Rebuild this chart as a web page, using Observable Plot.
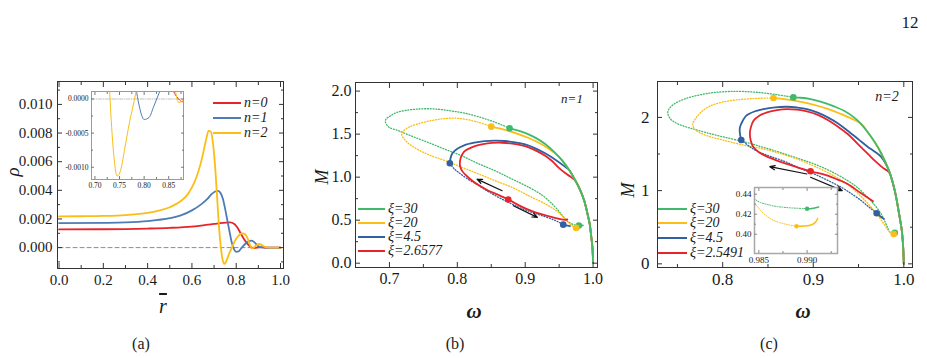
<!DOCTYPE html>
<html>
<head>
<meta charset="utf-8">
<script src="https://cdn.jsdelivr.net/npm/d3@7"></script>
<script src="https://cdn.jsdelivr.net/npm/@observablehq/plot@0.6"></script>
<style>
  html, body { margin:0; padding:0; background:#fff; }
  #page { position:relative; width:927px; height:358px; overflow:hidden; background:#fff;
          font-family:"Liberation Serif","Times New Roman",Tinos,"DejaVu Serif","Noto Serif",serif; color:#1a1a1a; }
  .panel { position:absolute; }
  .panel svg { display:block; overflow:visible; }
  .panel svg text { font-family:"Liberation Serif","Times New Roman",Tinos,"DejaVu Serif",serif !important; }
  .t { position:absolute; white-space:nowrap; line-height:1; transform:translate(-50%,-50%); }
  .lgline { position:absolute; height:2px; }
  .lgtext { position:absolute; white-space:nowrap; line-height:1; transform:translateY(-50%); font-style:italic; }
</style>
</head>
<body>
<div id="page"></div>
<script>
// ---------------- Panel (a): rho vs r-bar ----------------
const rN0   = [0, 0.2, 0.4, 0.5, 0.6, 0.65, 0.7, 0.74, 0.772, 0.79, 0.805, 0.82, 0.835, 0.85, 0.862, 0.87, 0.878, 0.888, 0.9, 0.915, 0.93, 1.0];
const rhoN0 = [0.00127, 0.00128, 0.00133, 0.00138, 0.00147, 0.00155, 0.00165, 0.00173, 0.00176, 0.00166, 0.0014, 0.0010, 0.0006, 0.00028, 0.00008, 0.0, -0.00004, -0.00002, 0.00001, 0.00002, 0.0, 0.0];
const rN1   = [0, 0.2, 0.3, 0.4, 0.5, 0.55, 0.6, 0.64, 0.67, 0.69, 0.705, 0.718, 0.73, 0.74, 0.75, 0.76, 0.77, 0.78, 0.79, 0.80, 0.81, 0.82, 0.83, 0.84, 0.855, 0.868, 0.88, 0.89, 0.90, 0.91, 0.93, 1.0];
const rhoN1 = [0.00171, 0.00173, 0.00176, 0.00185, 0.00205, 0.00225, 0.0026, 0.0030, 0.0034, 0.00375, 0.00392, 0.00396, 0.0038, 0.0034, 0.0027, 0.0019, 0.0011, 0.00035, -0.0001, -0.0003, -0.00027, -0.0001, 0.00008, 0.00025, 0.00043, 0.00049, 0.0004, 0.00025, 0.0001, 0.00003, 0.0, 0.0];
const rN2   = [0, 0.1, 0.2, 0.3, 0.4, 0.45, 0.5, 0.55, 0.58, 0.6, 0.62, 0.64, 0.655, 0.665, 0.675, 0.685, 0.695, 0.705, 0.715, 0.722, 0.73, 0.738, 0.745, 0.752, 0.76, 0.77, 0.78, 0.79, 0.80, 0.815, 0.83, 0.84, 0.85, 0.858, 0.864, 0.87, 0.876, 0.885, 0.895, 0.905, 0.915, 0.93, 0.95, 1.0];
const rhoN2 = [0.00218, 0.00219, 0.00221, 0.00227, 0.00242, 0.00258, 0.00282, 0.00325, 0.0037, 0.0042, 0.0049, 0.0059, 0.0069, 0.0076, 0.00815, 0.0081, 0.0073, 0.0056, 0.0032, 0.0015, 0.0001, -0.0008, -0.00113, -0.00105, -0.00075, -0.00035, -0.00002, 0.00035, 0.00062, 0.0009, 0.00099, 0.00093, 0.0007, 0.00038, 0.0001, -0.00005, -0.00004, 0.00008, 0.0002, 0.00025, 0.00018, 0.00005, 0.0, 0.0];
const zeroR = [0, 1];
const ticksAx = [0, 0.2, 0.4, 0.6, 0.8, 1.0];
const ticksAy = [0, 0.002, 0.004, 0.006, 0.008, 0.010];
const insetAx = [0.70, 0.75, 0.80, 0.85];
const insetAy = [0, -0.0005, -0.0010];
const labelsA = ["n=0", "n=1", "n=2"];

// ---------------- Panel (b): M vs omega, n=1 ----------------
const b30sW = [1.0, 0.999, 0.997, 0.995, 0.991, 0.987, 0.981, 0.974, 0.965, 0.955, 0.943, 0.93, 0.918, 0.905, 0.89, 0.877];
const b30sM = [0.0, 0.185, 0.33, 0.456, 0.6, 0.726, 0.85, 0.958, 1.08, 1.189, 1.29, 1.382, 1.445, 1.498, 1.54, 1.568];
const b30uW = [0.877, 0.855, 0.832, 0.81, 0.792, 0.775, 0.758, 0.74, 0.724, 0.71, 0.701, 0.695, 0.694, 0.699, 0.714, 0.735, 0.758, 0.78, 0.807, 0.83, 0.856, 0.88, 0.906, 0.925, 0.94, 0.95, 0.957, 0.962, 0.967, 0.973, 0.979];
const b30uM = [1.568, 1.64, 1.70, 1.745, 1.768, 1.787, 1.795, 1.79, 1.776, 1.75, 1.71, 1.675, 1.645, 1.583, 1.537, 1.47, 1.40, 1.33, 1.247, 1.16, 1.073, 0.98, 0.88, 0.79, 0.687, 0.6, 0.533, 0.49, 0.463, 0.445, 0.437];
const b30tW = [0.979, 0.982, 0.985];
const b30tM = [0.437, 0.437, 0.44];
const b20sW = [0.850, 0.87, 0.89, 0.905, 0.92, 0.933, 0.945, 0.955, 0.965, 0.974, 0.981, 0.987, 0.991, 0.995, 0.997, 0.999, 1.0];
const b20sM = [1.587, 1.55, 1.50, 1.455, 1.40, 1.34, 1.27, 1.19, 1.08, 0.958, 0.85, 0.726, 0.6, 0.456, 0.33, 0.185, 0.0];
const b20uW = [0.850, 0.83, 0.802, 0.78, 0.758, 0.74, 0.729, 0.721, 0.718, 0.722, 0.733, 0.755, 0.783, 0.808, 0.832, 0.856, 0.881, 0.905, 0.930, 0.942, 0.952, 0.96, 0.966, 0.971, 0.975];
const b20uM = [1.587, 1.64, 1.683, 1.68, 1.652, 1.615, 1.583, 1.54, 1.498, 1.44, 1.363, 1.27, 1.189, 1.11, 1.035, 0.958, 0.880, 0.785, 0.687, 0.63, 0.57, 0.505, 0.455, 0.425, 0.41];
const b20tW = [0.975, 0.978, 0.981];
const b20tM = [0.41, 0.415, 0.425];
const b45sW = [0.789, 0.790, 0.793, 0.80, 0.81, 0.825, 0.84, 0.855, 0.87, 0.885, 0.90, 0.915, 0.93, 0.945, 0.958, 0.965, 0.974, 0.981, 0.987, 0.991, 0.995, 0.997, 0.999, 1.0];
const b45sM = [1.162, 1.22, 1.28, 1.33, 1.37, 1.40, 1.418, 1.425, 1.42, 1.405, 1.38, 1.335, 1.274, 1.20, 1.125, 1.08, 0.958, 0.85, 0.726, 0.6, 0.456, 0.33, 0.185, 0.0];
const b45uW = [0.789, 0.795, 0.802, 0.815, 0.832, 0.846, 0.861, 0.876, 0.891, 0.905, 0.920, 0.933, 0.945, 0.951, 0.956];
const b45uM = [1.162, 1.10, 1.054, 0.98, 0.900, 0.83, 0.764, 0.705, 0.649, 0.605, 0.565, 0.53, 0.494, 0.47, 0.448];
const b45tW = [0.956, 0.96, 0.966];
const b45tM = [0.448, 0.44, 0.432];
const b26W = [0.962, 0.959, 0.95, 0.93, 0.91, 0.89, 0.875, 0.86, 0.846, 0.833, 0.822, 0.813, 0.807, 0.804, 0.804, 0.806, 0.81, 0.818, 0.827, 0.838, 0.851, 0.866, 0.881, 0.895, 0.906, 0.918, 0.930, 0.94, 0.95, 0.962, 0.974, 0.981, 0.987, 0.991, 0.995, 0.997, 0.999, 1.0];
const b26M = [0.51, 0.504, 0.515, 0.555, 0.605, 0.675, 0.741, 0.795, 0.842, 0.9, 0.958, 1.02, 1.073, 1.13, 1.189, 1.245, 1.297, 1.335, 1.363, 1.385, 1.398, 1.40, 1.39, 1.37, 1.344, 1.3, 1.247, 1.185, 1.104, 1.03, 0.958, 0.85, 0.726, 0.6, 0.456, 0.33, 0.185, 0.0];
const bDotW  = [0.877, 0.979, 0.850, 0.975, 0.789, 0.956, 0.875];
const bDotM  = [1.568, 0.437, 1.587, 0.41, 1.162, 0.448, 0.741];
const bDotXi = ["30", "30", "20", "20", "4.5", "4.5", "2.6577"];
const bArrowW1 = [0.866, 0.8825], bArrowM1 = [0.842, 0.668];
const bArrowW2 = [0.829, 0.918],  bArrowM2 = [0.977, 0.533];
const ticksBx = [0.7, 0.8, 0.9, 1.0];
const ticksBy = [0.0, 0.5, 1.0, 1.5, 2.0];
const labelsB = ["ξ=30", "ξ=20", "ξ=4.5", "ξ=2.6577"];

// ---------------- Panel (c): M vs omega, n=2 ----------------
const c30sW = [1.0, 0.9993, 0.9978, 0.9948, 0.990, 0.9836, 0.9754, 0.968, 0.960, 0.953, 0.945, 0.934, 0.923, 0.908, 0.897, 0.886, 0.878];
const c30sM = [0, 0.227, 0.455, 0.682, 1.0, 1.273, 1.5, 1.66, 1.8, 1.909, 2.0, 2.09, 2.15, 2.214, 2.25, 2.268, 2.273];
const c30uW = [0.878, 0.86, 0.84, 0.817, 0.795, 0.78, 0.76, 0.746, 0.74, 0.7395, 0.743, 0.751, 0.765, 0.781, 0.80, 0.826, 0.845, 0.863, 0.882, 0.901, 0.92, 0.938, 0.95, 0.960, 0.968, 0.975, 0.979, 0.982, 0.9845, 0.9862, 0.9878, 0.990];
const c30uM = [2.273, 2.31, 2.34, 2.355, 2.345, 2.32, 2.26, 2.18, 2.1, 2.045, 1.97, 1.909, 1.85, 1.795, 1.735, 1.659, 1.59, 1.523, 1.445, 1.364, 1.26, 1.136, 1.03, 0.909, 0.80, 0.682, 0.58, 0.50, 0.436, 0.429, 0.4267, 0.4255];
const c30tW = [0.990, 0.9905, 0.9912];
const c30tM = [0.4255, 0.4257, 0.4272];
const c20sW = [0.856, 0.87, 0.885, 0.90, 0.915, 0.93, 0.943, 0.953, 0.960, 0.968, 0.9754, 0.9836, 0.990, 0.9948, 0.9978, 0.9993, 1.0];
const c20sM = [2.265, 2.245, 2.215, 2.175, 2.12, 2.05, 1.98, 1.909, 1.8, 1.66, 1.5, 1.273, 1.0, 0.682, 0.455, 0.227, 0];
const c20uW = [0.856, 0.84, 0.82, 0.80, 0.787, 0.778, 0.771, 0.767, 0.769, 0.774, 0.785, 0.80, 0.82, 0.845, 0.865, 0.882, 0.90, 0.919, 0.935, 0.946, 0.956, 0.964, 0.972, 0.978, 0.982, 0.9845, 0.9855, 0.9865, 0.9879, 0.9889];
const c20uM = [2.265, 2.26, 2.245, 2.21, 2.16, 2.091, 2.0, 1.909, 1.84, 1.795, 1.74, 1.691, 1.63, 1.568, 1.50, 1.432, 1.34, 1.227, 1.11, 1.0, 0.88, 0.773, 0.65, 0.545, 0.47, 0.4323, 0.4207, 0.414, 0.4097, 0.408];
const c20tW = [0.9889, 0.9903, 0.9908, 0.9911];
const c20tM = [0.408, 0.409, 0.4113, 0.4157];
const c45sW = [0.8205, 0.819, 0.819, 0.822, 0.826, 0.835, 0.845, 0.858, 0.871, 0.882, 0.893, 0.905, 0.916, 0.927, 0.938, 0.95, 0.96, 0.968, 0.975, 0.9836, 0.990, 0.9948, 0.9978, 0.9993, 1.0];
const c45sM = [1.691, 1.78, 1.864, 1.95, 2.023, 2.08, 2.114, 2.138, 2.145, 2.135, 2.114, 2.065, 2.0, 1.92, 1.818, 1.70, 1.60, 1.53, 1.46, 1.273, 1.0, 0.682, 0.455, 0.227, 0];
const c45uW = [0.8205, 0.83, 0.837, 0.852, 0.871, 0.886, 0.901, 0.916, 0.931, 0.943, 0.953, 0.959, 0.964, 0.970];
const c45uM = [1.691, 1.60, 1.545, 1.47, 1.386, 1.30, 1.227, 1.14, 1.045, 0.95, 0.864, 0.8, 0.75, 0.691];
const c45tW = [0.970, 0.974, 0.978];
const c45tM = [0.691, 0.65, 0.614];
const c25W = [0.966, 0.952, 0.938, 0.927, 0.916, 0.897, 0.884, 0.871, 0.86, 0.849, 0.84, 0.834, 0.831, 0.830, 0.831, 0.834, 0.84, 0.849, 0.86, 0.871, 0.882, 0.893, 0.905, 0.916, 0.927, 0.938, 0.953, 0.962, 0.97, 0.977, 0.9836, 0.990, 0.9948, 0.9978, 0.9993, 1.0];
const c25M = [0.855, 0.97, 1.091, 1.15, 1.205, 1.264, 1.31, 1.364, 1.41, 1.464, 1.525, 1.591, 1.68, 1.773, 1.86, 1.955, 2.02, 2.068, 2.10, 2.114, 2.105, 2.082, 2.035, 1.964, 1.875, 1.773, 1.591, 1.48, 1.385, 1.31, 1.25, 1.0, 0.682, 0.455, 0.227, 0];
const cDotW  = [0.878, 0.990, 0.856, 0.9889, 0.8205, 0.970, 0.897];
const cDotM  = [2.273, 0.4255, 2.265, 0.408, 1.691, 0.691, 1.264];
const cDotXi = ["30", "30", "20", "20", "4.5", "4.5", "2.5491"];
const cArrowW1 = [0.893, 0.897], cArrowM1 = [1.227, 1.182];
const cArrowW2 = [0.852, 0.932], cArrowM2 = [1.327, 1.0];
const ticksCx = [0.8, 0.9, 1.0];
const ticksCy = [0, 1, 2];
const insetCx = [0.985, 0.990];
const insetCy = [0.40, 0.42, 0.44];
const labelsC = ["ξ=30", "ξ=20", "ξ=4.5", "ξ=2.5491"];

// ---------------- styling ----------------
const RED = "#e8242b", YEL = "#fbbd16", GRN = "#3fba6b", BLUA = "#4f7bb5", BLUB = "#30609f";
const FONT = '"Liberation Serif","Times New Roman",Tinos,"DejaVu Serif","Noto Serif",serif';
const page = document.getElementById("page");
const pts = (xs, ys) => xs.map((x, i) => ({x, y: ys[i]}));
const arrows = (w1, m1, w2, m2) => w1.map((_, i) => ({x1: w1[i], y1: m1[i], x2: w2[i], y2: m2[i]}));
const colorOf = {"30": GRN, "20": YEL, "4.5": BLUB, "2.6577": RED, "2.5491": RED};

function place(node, left, top) {
  const d = document.createElement("div");
  d.className = "panel"; d.style.left = left + "px"; d.style.top = top + "px";
  d.appendChild(node); page.appendChild(d);
}
function text(html, x, y, o = {}) {
  const d = document.createElement("div");
  d.className = "t"; d.innerHTML = html;
  d.style.left = x + "px"; d.style.top = y + "px";
  d.style.fontSize = (o.size || 16) + "px";
  if (o.italic) d.style.fontStyle = "italic";
  if (o.weight) d.style.fontWeight = o.weight;
  if (o.rotate) d.style.transform = `translate(-50%,-50%) rotate(${o.rotate}deg)`;
  page.appendChild(d);
}
function legend(items, colors, x0, len, ys, size) {
  items.forEach((s, i) => {
    const l = document.createElement("div");
    l.className = "lgline"; l.style.left = x0 + "px"; l.style.top = (ys[i] - 1) + "px";
    l.style.width = len + "px"; l.style.background = colors[i];
    page.appendChild(l);
    const t = document.createElement("div");
    t.className = "lgtext"; t.textContent = s; t.style.left = (x0 + len + 3) + "px";
    t.style.top = ys[i] + "px"; t.style.fontSize = size + "px";
    page.appendChild(t);
  });
}
function boxTicks(o) {
  const {xMajor, xMinor = [], yMajor, yMinor = [], fx, fy, major = 5, minor = 3, padX = 5, padY = 5, color = "#333"} = o;
  const none = () => "";
  const m = [];
  for (const anchor of ["bottom", "top"]) {
    m.push(Plot.axisX(xMajor, {anchor, tickSize: -major, tickFormat: none, label: null, stroke: color}));
    if (xMinor.length) m.push(Plot.axisX(xMinor, {anchor, tickSize: -minor, tickFormat: none, label: null, stroke: color}));
  }
  for (const anchor of ["left", "right"]) {
    m.push(Plot.axisY(yMajor, {anchor, tickSize: -major, tickFormat: none, label: null, stroke: color}));
    if (yMinor.length) m.push(Plot.axisY(yMinor, {anchor, tickSize: -minor, tickFormat: none, label: null, stroke: color}));
  }
  m.push(Plot.axisX(xMajor, {anchor: "bottom", tickSize: 0, tickPadding: padX, tickFormat: fx, label: null, fontFamily: FONT}));
  m.push(Plot.axisY(yMajor, {anchor: "left", tickSize: 0, tickPadding: padY, tickFormat: fy, label: null, fontFamily: FONT}));
  return m;
}
const style = (size) => ({fontFamily: FONT, fontSize: size + "px", color: "#1a1a1a", background: "transparent", overflow: "visible"});

// ---------- Panel (a) ----------
const lineA = (xs, ys, c, w = 1.8, extra = {}) => Plot.line(pts(xs, ys), {x: "x", y: "y", stroke: c, strokeWidth: w, curve: "monotone-x", clip: true, ...extra});
const plotA = Plot.plot({
  width: 300, height: 240, marginLeft: 57, marginRight: 17, marginTop: 21, marginBottom: 32,
  x: {domain: [-0.007, 1.0135], label: null}, y: {domain: [-0.00146, 0.0116], label: null},
  style: style(15),
  marks: [
    Plot.line(pts(zeroR, [0, 0]), {x: "x", y: "y", stroke: "#8c8c8c", strokeWidth: 1, strokeDasharray: "4,3"}),
    lineA(rN0, rhoN0, RED), lineA(rN1, rhoN1, BLUA), lineA(rN2, rhoN2, YEL),
    Plot.frame({stroke: "#333"}),
    ...boxTicks({xMajor: ticksAx, xMinor: [0.1, 0.3, 0.5, 0.7, 0.9], yMajor: ticksAy, yMinor: [-0.001, 0.001, 0.003, 0.005, 0.007, 0.009, 0.011],
      fx: d3.format(".1f"), fy: d3.format(".3f"), padX: 6, padY: 5})
  ]
});
place(plotA, 0, 60);

const insetA = Plot.plot({
  width: 135, height: 110, marginLeft: 36, marginRight: 7, marginTop: 6, marginBottom: 16,
  x: {domain: [0.693, 0.88], label: null}, y: {domain: [-0.00118, 0.00011], label: null},
  style: style(7.5),
  marks: [
    Plot.frame({fill: "white", stroke: "none"}),
    Plot.line(pts([0.693, 0.88], [0, 0]), {x: "x", y: "y", stroke: "#b0b0b0", strokeWidth: 0.8, strokeDasharray: "3,1.5,1,1.5"}),
    lineA(rN0, rhoN0, RED, 1), lineA(rN1, rhoN1, BLUA, 1), lineA(rN2, rhoN2, YEL, 1),
    Plot.frame({stroke: "#9a9a9a"}),
    ...boxTicks({xMajor: insetAx, xMinor: [0.725, 0.775, 0.825, 0.875], yMajor: insetAy, yMinor: [-0.00025, -0.00075],
      fx: d3.format(".2f"), fy: d => d.toFixed(4), major: 3, minor: 2, padX: 3, padY: 3, color: "#777"})
  ]
});
place(insetA, 55, 85);

// ---------- Panels (b), (c) ----------
function mPanel(cfg) {
  const dotted = (xs, ys, c) => Plot.line(pts(xs, ys), {x: "x", y: "y", stroke: c, strokeWidth: 1.3, strokeDasharray: "1,1.8", curve: "catmull-rom", clip: true});
  const solid = (xs, ys, c, w = 1.8) => Plot.line(pts(xs, ys), {x: "x", y: "y", stroke: c, strokeWidth: w, curve: "catmull-rom", clip: true});
  return [
    ...cfg.u.map(([xs, ys, c]) => dotted(xs, ys, c)),
    ...cfg.s.map(([xs, ys, c]) => solid(xs, ys, c)),
    Plot.arrow(cfg.arrows, {x1: "x1", y1: "y1", x2: "x2", y2: "y2", stroke: "#111", strokeWidth: 1.2, headLength: 7, headAngle: 45}),
    Plot.dot(cfg.dots, {x: "x", y: "y", fill: "c", r: 3.3, stroke: "none"}),
    Plot.frame({stroke: "#333"})
  ];
}
const dotsB = bDotW.map((w, i) => ({x: w, y: bDotM[i], c: colorOf[bDotXi[i]]}));
const plotB = Plot.plot({
  width: 300, height: 240, marginLeft: 45, marginRight: 13, marginTop: 22, marginBottom: 33,
  x: {domain: [0.65, 1.0065], label: null}, y: {domain: [-0.05, 2.1], label: null},
  color: {type: "identity"},
  style: style(16),
  marks: [
    ...mPanel({
      u: [[b30uW, b30uM, GRN], [b20uW, b20uM, YEL], [b45uW, b45uM, BLUB]],
      s: [[b26W, b26M, RED], [b45sW, b45sM, BLUB], [b20sW, b20sM, YEL], [b30sW, b30sM, GRN],
          [b30tW, b30tM, GRN], [b20tW, b20tM, YEL], [b45tW, b45tM, BLUB]],
      arrows: arrows(bArrowW1, bArrowM1, bArrowW2, bArrowM2),
      dots: dotsB
    }),
    ...boxTicks({xMajor: ticksBx, xMinor: [0.65, 0.75, 0.85, 0.95], yMajor: ticksBy, yMinor: [0.25, 0.75, 1.25, 1.75],
      fx: d3.format(".1f"), fy: d3.format(".1f"), padX: 5, padY: 4})
  ]
});
place(plotB, 310, 60);

const dotsC = cDotW.map((w, i) => ({x: w, y: cDotM[i], c: colorOf[cDotXi[i]]}));
const plotC = Plot.plot({
  width: 317, height: 240, marginLeft: 47, marginRight: 15, marginTop: 21, marginBottom: 33,
  x: {domain: [0.728, 1.0096], label: null}, y: {domain: [-0.05, 2.49], label: null},
  color: {type: "identity"},
  style: style(17),
  marks: [
    ...mPanel({
      u: [[c30uW, c30uM, GRN], [c20uW, c20uM, YEL], [c45uW, c45uM, BLUB]],
      s: [[c25W, c25M, RED], [c45sW, c45sM, BLUB], [c20sW, c20sM, YEL], [c30sW, c30sM, GRN],
          [c30tW, c30tM, GRN], [c20tW, c20tM, YEL], [c45tW, c45tM, BLUB]],
      arrows: arrows(cArrowW1, cArrowM1, cArrowW2, cArrowM2),
      dots: dotsC
    }),
    ...boxTicks({xMajor: ticksCx, xMinor: [0.75, 0.85, 0.95], yMajor: ticksCy, yMinor: [0.5, 1.5],
      fx: d3.format(".1f"), fy: d3.format("d"), padX: 5, padY: 8})
  ]
});
place(plotC, 610, 60);

const dotsCi = dotsC.filter(d => d.x > 0.984 && d.y < 0.45);
const insetC = Plot.plot({
  width: 130, height: 90, marginLeft: 42, marginRight: 5, marginTop: 7, marginBottom: 17,
  x: {domain: [0.98455, 0.99315], label: null}, y: {domain: [0.3807, 0.4467], label: null},
  color: {type: "identity"},
  style: style(9),
  marks: [
    Plot.frame({fill: "white", stroke: "none"}),
    Plot.line(pts(c30uW, c30uM), {x: "x", y: "y", stroke: GRN, strokeWidth: 1, strokeDasharray: "1,1.5", curve: "catmull-rom", clip: true}),
    Plot.line(pts(c20uW, c20uM), {x: "x", y: "y", stroke: YEL, strokeWidth: 1, strokeDasharray: "1,1.5", curve: "catmull-rom", clip: true}),
    Plot.line(pts(c30tW, c30tM), {x: "x", y: "y", stroke: GRN, strokeWidth: 1.5, curve: "catmull-rom", clip: true}),
    Plot.line(pts(c20tW, c20tM), {x: "x", y: "y", stroke: YEL, strokeWidth: 1.5, curve: "catmull-rom", clip: true}),
    Plot.dot(dotsCi, {x: "x", y: "y", fill: "c", r: 2.2}),
    Plot.frame({stroke: "#a8a8a8", strokeWidth: 1.5}),
    ...boxTicks({xMajor: insetCx, xMinor: [0.9875, 0.9925], yMajor: insetCy, yMinor: [0.41, 0.43], fx: d3.format(".3f"), fy: d3.format(".2f"),
      major: 3, minor: 2, padX: 3, padY: 3, color: "#888"})
  ]
});
place(insetC, 712, 180);

// ---------- text: labels, legends ----------
text("12", 910, 22, {size: 17});
text("(a)", 141, 344, {size: 16});
text("(b)", 455, 344, {size: 16});
text("(c)", 769, 344, {size: 16});
text("ρ", 12, 172, {size: 19, italic: true, rotate: -90});
text('<span style="text-decoration:overline">r</span>', 163, 306, {size: 20, italic: true});
text("M", 322, 177, {size: 18, italic: true, rotate: -90});
text("ω", 474, 311, {size: 21, italic: true, weight: "bold"});
text("M", 628, 190, {size: 18, italic: true, rotate: -90});
text("ω", 803, 311, {size: 21, italic: true, weight: "bold"});
text("n=1", 572, 98, {size: 13, italic: true});
text("n=2", 887, 97, {size: 14, italic: true});

legend(labelsA, [RED, BLUA, YEL], 213, 28, [103, 118, 133], 14);
legend(labelsB, [GRN, YEL, BLUB, RED], 358, 27, [209, 223, 237, 251], 14);
legend(labelsC, [GRN, YEL, BLUB, RED], 658, 29, [209, 223, 238, 253], 14);
</script>
</body>
</html>
